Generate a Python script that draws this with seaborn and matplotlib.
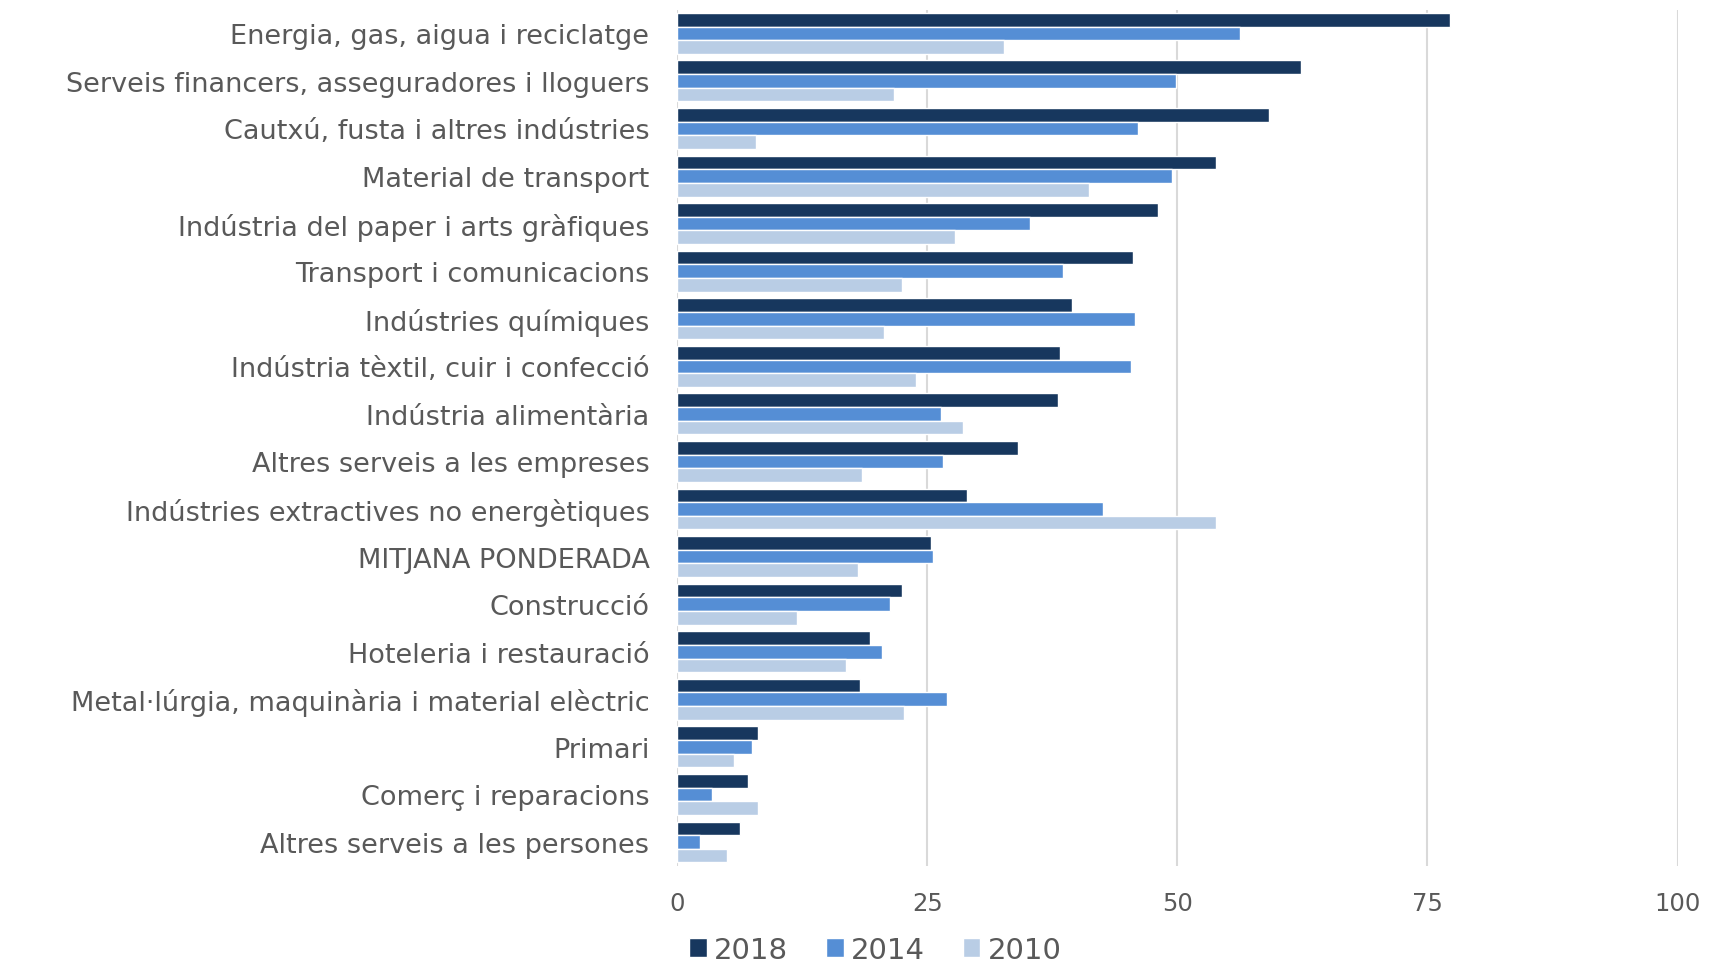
import pandas as pd
import matplotlib.pyplot as plt
import seaborn as sns

# Dades
sectors = [
    "Energia, gas, aigua i reciclatge",
    "Serveis financers, asseguradores i lloguers",
    "Cautxú, fusta i altres indústries",
    "Material de transport",
    "Indústria del paper i arts gràfiques",
    "Transport i comunicacions",
    "Indústries químiques",
    "Indústria tèxtil, cuir i confecció",
    "Indústria alimentària",
    "Altres serveis a les empreses",
    "Indústries extractives no energètiques",
    "MITJANA PONDERADA",
    "Construcció",
    "Hoteleria i restauració",
    "Metal·lúrgia, maquinària i material elèctric",
    "Primari",
    "Comerç i reparacions",
    "Altres serveis a les persones",
]
v2018 = [77.3, 62.4, 59.2, 53.9, 48.1, 45.6, 39.5, 38.3, 38.1, 34.1, 29.0, 25.4, 22.5, 19.3, 18.3, 8.1, 7.1, 6.3]
v2014 = [56.3, 49.9, 46.1, 49.5, 35.3, 38.6, 45.8, 45.4, 26.4, 26.6, 42.6, 25.6, 21.3, 20.5, 27.0, 7.5, 3.5, 2.3]
v2010 = [32.7, 21.7, 7.9, 41.2, 27.8, 22.5, 20.7, 23.9, 28.6, 18.5, 53.9, 18.1, 12.0, 16.9, 22.7, 5.7, 8.1, 5.0]
anys = ["2018", "2014", "2010"]
colors = ["#17375e", "#558ed5", "#b9cde5"]

df = pd.DataFrame({"Sector": sectors, "2018": v2018, "2014": v2014, "2010": v2010})
df_long = df.melt(id_vars="Sector", value_vars=anys, var_name="Any", value_name="Valor")

sns.set_style("white")
plt.rcParams['font.family'] = ['DejaVu Sans']

fig = plt.figure(figsize=(17.1, 9.62), dpi=100)
ax = fig.add_axes([0.396, 0.099, 0.585, 0.89])

sns.barplot(data=df_long, y="Sector", x="Valor", hue="Any", hue_order=anys,
            palette=colors, orient="h", width=0.86, ax=ax, errorbar=None,
            saturation=1)

ax.set_xlim(0, 100)
ax.set_xticks([0, 25, 50, 75, 100])
ax.grid(axis="x", color="#d9d9d9", linewidth=1.5)
ax.set_axisbelow(True)
for s in ax.spines.values():
    s.set_visible(False)
ax.set_xlabel("")
ax.set_ylabel("")
ax.tick_params(axis="y", length=0, pad=20, labelsize=19.5, labelcolor="#595959")
ax.tick_params(axis="x", length=0, pad=18, labelsize=17.5, labelcolor="#595959")

ax.legend(loc="lower center", bbox_to_anchor=(0.512, -0.03), bbox_transform=fig.transFigure,
          ncol=3, frameon=False, fontsize=21, labelcolor="#595959",
          handlelength=0.6, handleheight=0.6, handletextpad=0.25, columnspacing=1.3)

fig.savefig("out.png", dpi=100)
